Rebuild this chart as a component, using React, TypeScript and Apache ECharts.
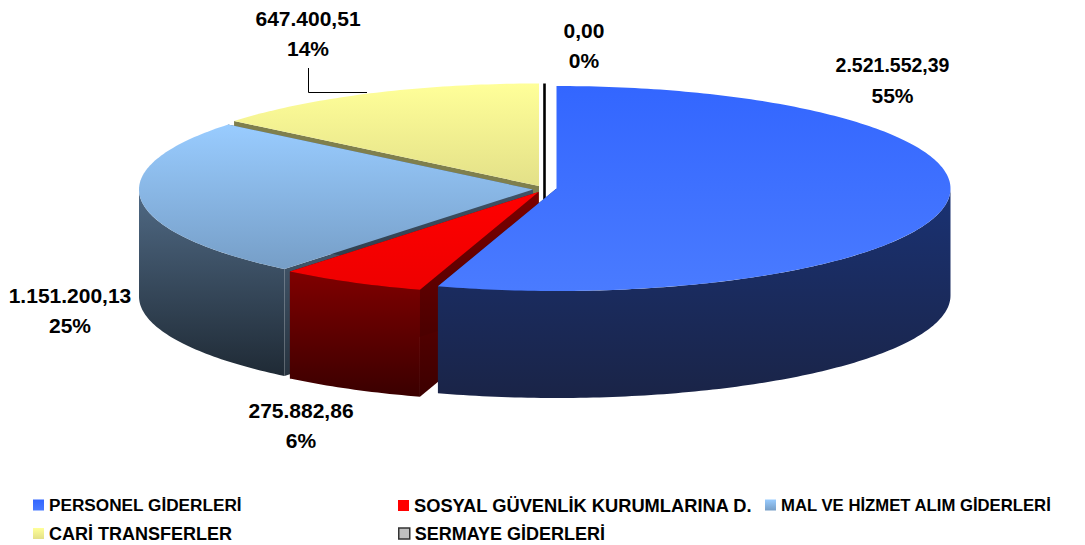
import React, { useEffect, useRef } from "react";
import * as echarts from "echarts";

const categories = [
  "PERSONEL GİDERLERİ",
  "SOSYAL GÜVENLİK KURUMLARINA D.",
  "MAL VE HİZMET ALIM GİDERLERİ",
  "CARİ TRANSFERLER",
  "SERMAYE GİDERLERİ",
];
const values = [2521552.39, 275882.86, 1151200.13, 647400.51, 0];

// per-slice layout, same order as the categories
const centers = [[556.5, 188.5], [538.5, 192], [533, 189.5], [539, 186], [544.5, 186]];
const labelCenters = [[892.5, 65], [301, 410], [70, 295], [308, 18], [584, 30]];
const labelSizes = [19.5, 21, 21, 21, 21];
const drawOrder = [3, 2, 1, 4, 0];
const legendSpots = [[33, 496.5], [398, 496.5], [765, 496.5], [33, 524.5], [398, 524.5]];
const legendSizes = [17.2, 18.3, 16.7, 18, 18];

const RX = 394;
const RY = 102.5;
const DEPTH = 107;
const LINE = 30;
const FONT = '"Liberation Sans", Arial, sans-serif';

const v = (a: string, b: string) => new echarts.graphic.LinearGradient(0, 0, 0, 1, [
  { offset: 0, color: a }, { offset: 1, color: b },
]);
const topFill = [
  () => v("#3366ff", "#4a7bff"),
  () => v("#ff0000", "#ee0000"),
  () => v("#99ccff", "#769ec7"),
  () => v("#ffff99", "#e3e088"),
  () => "#000000",
];
const wallFill = [
  () => v("#1a3274", "#1a2447"),
  () => v("#800000", "#3a0000"),
  () => v("#506a85", "#1f2a35"),
  () => "#7f7f4d",
  () => "#000000",
];
const cutFill = [
  () => "#1a3274",
  () => v("#7d0000", "#3c0000"),
  () => v("#50677f", "#27333f"),
  () => "#7f7f4d",
  () => "#000000",
];

const total = values.reduce((a, b) => a + b, 0);
const turkish = (n: number) => {
  const [i, d] = n.toFixed(2).split(".");
  return i.replace(/\B(?=(\d{3})+$)/g, ".") + "," + d;
};

function sliceAngles(idx: number) {
  let s = 0;
  for (let i = 0; i < idx; i++) s += values[i];
  return [(s / total) * Math.PI * 2, ((s + values[idx]) / total) * Math.PI * 2];
}

function renderSlice(idx: number) {
  const [cx, cy] = centers[idx];
  const [a0, a1] = sliceAngles(idx);
  const pt = (a: number, dy = 0) => [cx + RX * Math.sin(a), cy - RY * Math.cos(a) + dy];
  const arc = (from: number, to: number, dy = 0) => {
    const n = Math.max(2, Math.ceil(Math.abs(to - from) * 60));
    const out: number[][] = [];
    for (let i = 0; i <= n; i++) out.push(pt(from + ((to - from) * i) / n, dy));
    return out;
  };
  const children: any[] = [];
  const isZero = values[idx] === 0;
  const end = isZero ? Math.PI * 2 : a1;
  const start = isZero ? Math.PI * 2 : a0;
  const poly = (points: number[][], fill: any, extra: any = {}) => ({
    type: "polygon", shape: { points }, style: { fill, ...extra },
  });
  const cut = (a: number) => poly(
    [[cx, cy], pt(a), pt(a, DEPTH), [cx, cy + DEPTH]],
    cutFill[idx](),
    isZero ? { stroke: "#000000", lineWidth: 2.6 } : {},
  );
  children.push(cut(start));
  if (!isZero) children.push(cut(end));
  const w0 = Math.max(start, Math.PI / 2);
  const w1 = Math.min(end, Math.PI * 1.5);
  if (w1 > w0) {
    children.push(poly([...arc(w0, w1), ...arc(w1, w0, DEPTH)], wallFill[idx]()));
  }
  if (!isZero) {
    children.push(poly([[cx, cy], ...arc(start, end)], topFill[idx]()));
  }
  return { type: "group", children };
}

function labelTexts(idx: number) {
  const [x, y] = labelCenters[idx];
  const line = (text: string, size: number, yy: number) => ({
    type: "text",
    x,
    y: yy,
    style: {
      text,
      font: `bold ${size}px ${FONT}`,
      fill: "#000000",
      align: "center",
      verticalAlign: "middle",
    },
  });
  return [
    line(turkish(values[idx]), labelSizes[idx], y),
    line(`${Math.round((values[idx] / total) * 100)}%`, 21, y + LINE),
  ];
}

export default function App() {
  const ref = useRef<HTMLDivElement>(null);
  useEffect(() => {
    const chart = echarts.init(ref.current!, null, { renderer: "svg" });
    const markerFill: any[] = [
      v("#3366ff", "#4a7bff"), "#ff0000", v("#99ccff", "#769ec7"), v("#ffff99", "#e3e088"), "#c0c0c0",
    ];
    chart.setOption({
      animation: false,
      backgroundColor: "#ffffff",
      legend: categories.map((name, i) => ({
        left: legendSpots[i][0],
        top: legendSpots[i][1],
        padding: 0,
        itemWidth: 11,
        itemHeight: 11,
        itemGap: 0,
        selectedMode: false,
        icon: "rect",
        textStyle: { fontFamily: FONT, fontWeight: "bold", fontSize: legendSizes[i], color: "#000000", padding: [0, 0, 0, 0] },
        data: [{
          name,
          itemStyle: { color: markerFill[i], borderColor: i === 4 ? "#333333" : "transparent", borderWidth: i === 4 ? 1.5 : 0 },
        }],
      })),
      graphic: {
        elements: [
          ...values.flatMap((_, i) => labelTexts(i)),
          {
            type: "polyline",
            shape: { points: [[308.5, 68], [308.5, 92.5], [367, 92.5]] },
            style: { stroke: "#000000", lineWidth: 1, fill: "none" },
          },
        ],
      },
      series: drawOrder.map((i) => ({
        type: "custom",
        name: categories[i],
        coordinateSystem: "none",
        silent: true,
        data: [values[i]],
        renderItem: () => renderSlice(i),
      })),
    });
    return () => chart.dispose();
  }, []);
  return <div ref={ref} style={{ position: "fixed", left: 0, top: 0, width: 1085, height: 545 }} />;
}
